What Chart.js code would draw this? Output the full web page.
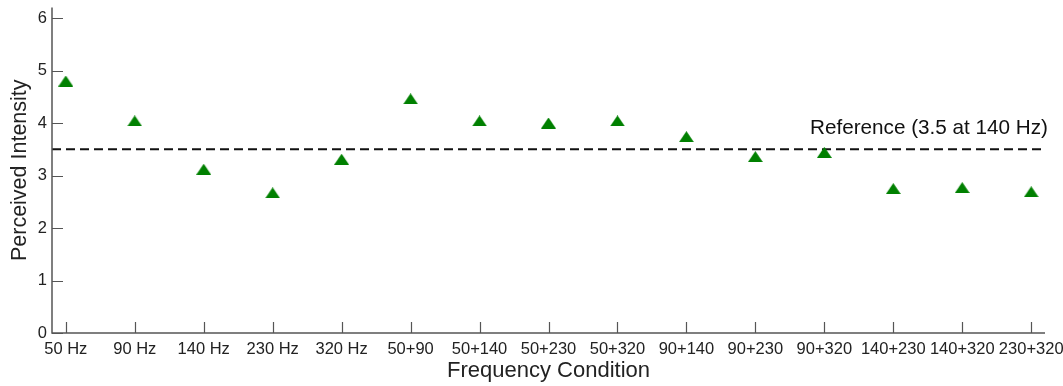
<!DOCTYPE html>
<html>
<head>
<meta charset="utf-8">
<title>Perceived Intensity by Frequency Condition</title>
<script src="https://cdn.jsdelivr.net/npm/chart.js@4/dist/chart.umd.min.js"></script>
<style>
  html, body { margin: 0; padding: 0; background: #fff; }
  #wrap { width: 1063px; height: 386px; }
</style>
</head>
<body>
<div id="wrap"><canvas id="chart"></canvas></div>
<script>
const conditions = ["50 Hz", "90 Hz", "140 Hz", "230 Hz", "320 Hz", "50+90", "50+140", "50+230",
  "50+320", "90+140", "90+230", "90+320", "140+230", "140+320", "230+320"];
const intensity = [4.80, 4.04, 3.12, 2.67, 3.31, 4.46, 4.04, 4.00, 4.04, 3.74, 3.36, 3.44, 2.75, 2.77, 2.69];
const yTicks = [0, 1, 2, 3, 4, 5, 6];
const referenceLevel = 3.5;
const referenceText = "Reference (3.5 at 140 Hz)";

const FONT = "'Liberation Sans', Arial, sans-serif";
const AXIS_COLOR = "#555";
const MARKER_COLOR = "#008000";

// flat upward triangle marker (wider than tall), centred on its point
function triangleMarker(w, h) {
  const c = document.createElement("canvas");
  c.width = w;
  c.height = h;
  const g = c.getContext("2d");
  g.fillStyle = MARKER_COLOR;
  g.beginPath();
  g.moveTo(w / 2, 0);
  g.lineTo(w, h);
  g.lineTo(0, h);
  g.closePath();
  g.fill();
  return c;
}

// axis lines with inward tick marks, plus the dashed reference line
const axisExtras = {
  id: "axisExtras",
  beforeDatasetsDraw(chart) {
    const { ctx, chartArea, scales } = chart;
    const y = scales.y.getPixelForValue(referenceLevel);
    ctx.save();
    ctx.strokeStyle = "#111";
    ctx.lineWidth = 2;
    ctx.setLineDash([9, 5]);
    ctx.beginPath();
    ctx.moveTo(chartArea.left, y);
    ctx.lineTo(chartArea.right, y);
    ctx.stroke();
    ctx.setLineDash([]);
    ctx.fillStyle = "#111";
    ctx.font = "20.7px " + FONT;
    ctx.textAlign = "right";
    ctx.textBaseline = "alphabetic";
    ctx.fillText(referenceText, chartArea.right + 3, y - 15);
    ctx.restore();
  },
  afterDraw(chart) {
    const { ctx, chartArea, scales } = chart;
    const { left, right, top, bottom } = chartArea;
    ctx.save();
    ctx.strokeStyle = AXIS_COLOR;
    ctx.lineWidth = 1.5;
    ctx.beginPath();
    ctx.moveTo(left, top);
    ctx.lineTo(left, bottom);
    ctx.lineTo(right, bottom);
    ctx.stroke();

    ctx.lineWidth = 1.2;
    ctx.beginPath();
    scales.x.ticks.forEach(t => {
      const x = Math.round(scales.x.getPixelForValue(t.value)) + 0.5;
      ctx.moveTo(x, bottom);
      ctx.lineTo(x, bottom - 11);
    });
    scales.y.ticks.forEach(t => {
      const y = Math.round(scales.y.getPixelForValue(t.value)) + 0.5;
      ctx.moveTo(left, y);
      ctx.lineTo(left + 11, y);
    });
    ctx.stroke();
    ctx.restore();
  }
};

const marker = triangleMarker(15, 11);

new Chart(document.getElementById("chart"), {
  type: "scatter",
  data: {
    datasets: [{
      label: "Perceived Intensity",
      data: intensity.map((v, i) => ({ x: i, y: v })),
      pointStyle: marker,
      pointRadius: 7.5,
      pointHoverRadius: 7.5,
      backgroundColor: MARKER_COLOR,
      borderColor: MARKER_COLOR,
      borderWidth: 0
    }]
  },
  options: {
    responsive: true,
    maintainAspectRatio: false,
    animation: false,
    layout: { padding: { left: 0, right: 18, top: 6, bottom: 0 } },
    plugins: {
      legend: { display: false },
      tooltip: { enabled: false }
    },
    scales: {
      x: {
        type: "linear",
        min: -0.2,
        max: 14.2,
        afterBuildTicks: s => { s.ticks = conditions.map((c, i) => ({ value: i })); },
        afterFit: s => {
          s.height = 53;
          s.paddingLeft = 0;
          s.paddingRight = 0;
        },
        grid: { display: false, drawTicks: false },
        border: { display: false },
        ticks: {
          autoSkip: false,
          maxRotation: 0,
          padding: 7,
          color: "#222",
          font: { family: FONT, size: 16.5 },
          callback: v => conditions[v]
        },
        title: {
          display: true,
          text: "Frequency Condition",
          color: "#222",
          font: { family: FONT, size: 22 },
          padding: { top: 0, bottom: 2 }
        }
      },
      y: {
        min: 0,
        max: 6.2,
        afterBuildTicks: s => { s.ticks = yTicks.map(v => ({ value: v })); },
        afterFit: s => {
          s.width = 52;
          s.paddingTop = 0;
          s.paddingBottom = 0;
        },
        grid: { display: false, drawTicks: false },
        border: { display: false },
        ticks: {
          padding: 5,
          color: "#222",
          font: { family: FONT, size: 16.5 }
        },
        title: {
          display: true,
          text: "Perceived Intensity",
          color: "#222",
          font: { family: FONT, size: 21.5 },
          padding: { top: 7, bottom: 0 }
        }
      }
    }
  },
  plugins: [axisExtras]
});
</script>
</body>
</html>
